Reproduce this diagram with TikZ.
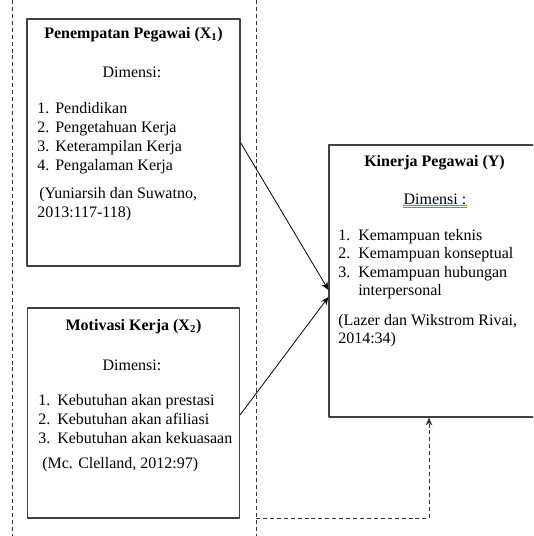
\documentclass[tikz,border=0pt]{standalone}
\usepackage{fontspec}
\setmainfont{Liberation Serif}
\usetikzlibrary{arrows.meta}
\begin{document}
\begin{tikzpicture}[x=0.75pt,y=-0.75pt,>={Stealth[length=6pt,width=5pt]}, line join=round,
    box/.style={draw=black!75,line width=0.8pt,inner sep=0pt},
    txt/.style={anchor=base west,inner sep=0pt,font=\fontsize{12}{14}\selectfont},
    ttl/.style={anchor=base,inner sep=0pt,font=\fontsize{12}{14}\selectfont\bfseries},
    sep/.style={draw=black!80,line width=0.7pt,dash pattern=on 3pt off 2.2pt}]
    \useasboundingbox (0,0) rectangle (533,536);
    \clip (0,0) rectangle (533,536);
    % separators
    \draw[sep] (12,0)--(12,536);
    \draw[sep] (256,0)--(256,536);
    % boxes
    \node[box,minimum width=213*0.75pt,minimum height=247*0.75pt] (x1) at (133.5,142.5) {};
    \node[box,minimum width=212*0.75pt,minimum height=210*0.75pt] (x2) at (133.5,413) {};
    \node[box,minimum width=211*0.75pt,minimum height=272*0.75pt] (y) at (434.5,281) {};
    % X1
    \node[ttl] (x1t) at (133.5,38) {Penempatan Pegawai (X\textsubscript{1})};
    \node[txt,anchor=base] (x1d) at (132,77) {Dimensi:};
    \foreach \n/\lbl/\yy in {1/Pendidikan/108,2/Pengetahuan Kerja/127,3/Keterampilan Kerja/146,4/Pengalaman Kerja/165}{
        \node[txt] (x1n\n) at (37,\yy+5) {\n.};
        \node[txt] (x1i\n) at (55,\yy+5) {\lbl};
    }
    \node[txt] (x1c1) at (39,198) {(Yuniarsih dan Suwatno,};
    \node[txt] (x1c2) at (37,217) {2013:117-118)};
    % X2
    \node[ttl] (x2t) at (133.5,330) {Motivasi Kerja (X\textsubscript{2})};
    \node[txt,anchor=base] (x2d) at (132,370) {Dimensi:};
    \foreach \n/\lbl/\yy in {1/Kebutuhan akan prestasi/400,2/Kebutuhan akan afiliasi/419,3/Kebutuhan akan kekuasaan/438}{
        \node[txt] (x2n\n) at (38,\yy+5) {\n.};
        \node[txt] (x2i\n) at (57,\yy+5) {\lbl};
    }
    \node[txt] (x2c) at (42,468) {(Mc. Clelland, 2012:97)};
    % Y
    \node[ttl] (yt) at (434.5,166) {Kinerja Pegawai (Y)};
    \node[txt,anchor=base] (yd) at (435,204) {Dimensi :};
    \draw[blue!55,line width=0.5pt] ([yshift=-1.2pt]yd.base west)--([yshift=-1.2pt]yd.base east)
        ([yshift=-2.6pt]yd.base west)--([yshift=-2.6pt]yd.base east);
    \foreach \n/\lbl/\yy in {1/Kemampuan teknis/235,2/Kemampuan konseptual/253,3/Kemampuan hubungan/272}{
        \node[txt] (yn\n) at (338,\yy+5) {\n.};
        \node[txt] (yi\n) at (358,\yy+5) {\lbl};
    }
    \node[txt] (yi4) at (358,295) {interpersonal};
    \node[txt] (yc1) at (338,325) {(Lazer dan Wikstrom Rivai,};
    \node[txt] (yc2) at (338,343) {2014:34)};
    % arrows
    \coordinate (fb) at (256,518);
    \draw[->,line width=0.6pt] (x1.east) -- ([yshift=-9*0.75pt]y.west);
    \draw[->,line width=0.6pt] ([yshift=-2*0.75pt]x2.east) -- ([yshift=-16*0.75pt]y.west);
    \draw[sep,->] (fb) -| ([xshift=-5.5*0.75pt]y.south);
\end{tikzpicture}
\end{document}
